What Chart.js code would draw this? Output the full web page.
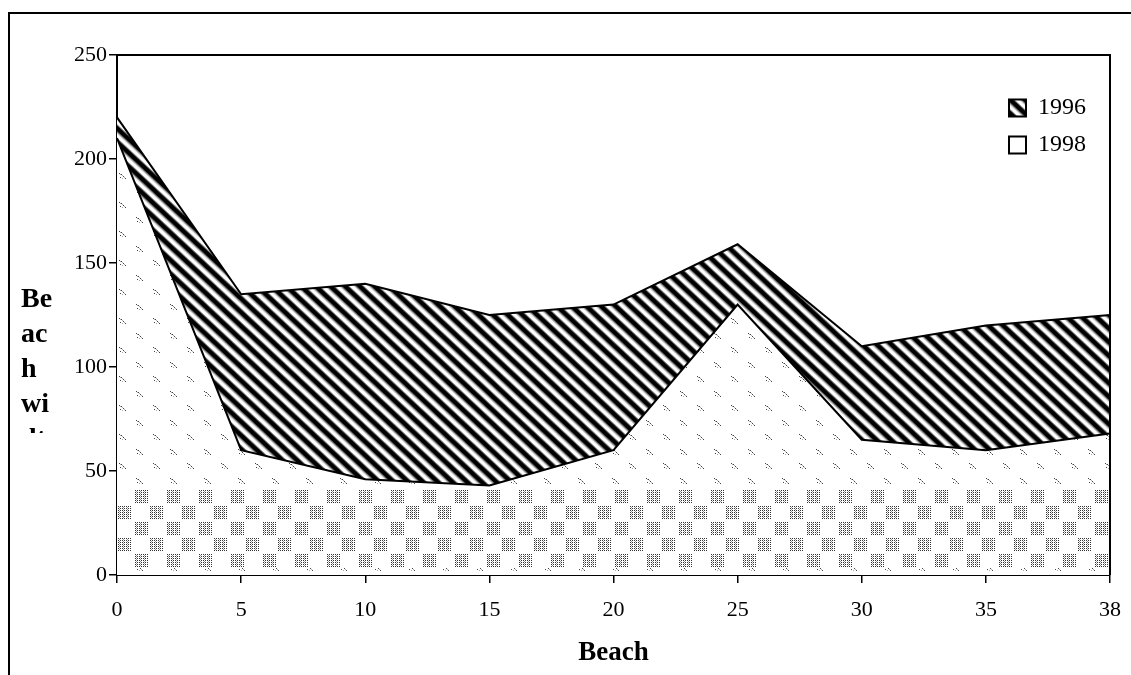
<!DOCTYPE html>
<html lang="en">
<head>
<meta charset="UTF-8">
<title>Beach width 1996 / 1998</title>
<script src="https://cdn.jsdelivr.net/npm/chart.js"></script>
<style>
  html, body { margin: 0; padding: 0; background: #fff; overflow: hidden; }
  #frame { position: absolute; left: 8px; top: 12px; width: 1300px; height: 800px; border-left: 2px solid #000; border-top: 2px solid #000; }
  #wrap { position: absolute; left: 0; top: 0; width: 1131px; height: 675px; }
</style>
</head>
<body>
<div id="frame"></div>
<div id="wrap"><canvas id="chart" width="1131" height="675"></canvas></div>
<script>
// values
const beachLabels = ['0', '5', '10', '15', '20', '25', '30', '35', '38'];
const width1996 = [220, 135, 140, 125, 130, 159, 110, 120, 125];
const width1998 = [210, 60, 46, 43, 60, 130, 65, 60, 68];
const yTicks = [0, 50, 100, 150, 200, 250];
const seriesNames = ['1996', '1998'];
const xTitle = 'Beach';
const yTitleLines = ['Be', 'ac', 'h', 'wi', 'dt', 'h'];

const SERIF = '"Liberation Serif", "Times New Roman", serif';

// diagonal black hatching for 1996
function stripePattern() {
    const c = document.createElement('canvas');
    c.width = 8; c.height = 10;
    const g = c.getContext('2d');
    g.fillStyle = '#fff'; g.fillRect(0, 0, 8, 10);
    g.fillStyle = '#000'; g.fillRect(0, 2, 8, 4);
    g.fillStyle = '#707070'; g.fillRect(0, 1, 8, 1); g.fillRect(0, 6, 8, 1);
    g.fillStyle = '#c8c8c8'; g.fillRect(0, 7, 8, 1);
    const p = g.createPattern(c, 'repeat');
    p.setTransform(new DOMMatrix().rotate(43));
    return p;
}

// speckled fill for 1998, with the checkered band near the base
let dotCache = null;
function dotPattern(chart) {
    const a = chart.chartArea;
    if (!a) return '#ddd';
    const key = a.left + ',' + a.bottom;
    if (dotCache && dotCache.key === key) return dotCache.pattern;
    const c = document.createElement('canvas');
    c.width = chart.width; c.height = chart.height;
    const g = c.getContext('2d');
    g.fillStyle = '#fff'; g.fillRect(0, 0, c.width, c.height);
    // confetti
    for (let col = 0; col * 17 < c.width; col++) {
        const off = (col % 2) * 14.5;
        for (let y = off - 30; y < c.height; y += 29) {
            const x = a.left + 2 + col * 17, yy = Math.round(y);
            g.fillStyle = '#444';
            g.fillRect(x, yy, 1, 1); g.fillRect(x + 2, yy + 1, 1, 1);
            g.fillRect(x + 4, yy + 3, 1, 1); g.fillRect(x + 6, yy + 5, 1, 1);
            g.fillRect(x + 1, yy + 4, 1, 1);
            g.fillStyle = '#aaa';
            g.fillRect(x + 1, yy + 1, 1, 1); g.fillRect(x + 3, yy + 2, 1, 1);
            g.fillRect(x + 5, yy + 4, 1, 1); g.fillRect(x + 3, yy + 5, 1, 1);
        }
    }
    // checkered band
    const bandTop = a.bottom - 87;
    g.fillStyle = '#fff'; g.fillRect(0, bandTop, c.width, 80);
    for (let r = 0; r < 5; r++) {
        const sy = bandTop + 2 + r * 16;
        for (let sx = a.left + (r % 2 === 0 ? 18 : 1); sx < c.width; sx += 32) {
            g.fillStyle = '#333';
            for (let dx = 0; dx < 13; dx += 2) {
                for (let dy = 0; dy < 13; dy += 2) g.fillRect(sx + dx, sy + dy, 1, 1);
            }
            g.fillStyle = '#999';
            for (let dx = 1; dx < 13; dx += 4) {
                for (let dy = 1; dy < 13; dy += 2) g.fillRect(sx + dx, sy + dy, 1, 1);
            }
        }
    }
    const pattern = chart.ctx.createPattern(c, 'repeat');
    dotCache = { key, pattern };
    return pattern;
}

// top and right edges of the plot frame
const plotFrame = {
    id: 'plotFrame',
    afterDatasetsDraw(chart) {
        const { ctx, chartArea: a } = chart;
        ctx.save();
        ctx.strokeStyle = '#000';
        ctx.lineWidth = 2;
        ctx.beginPath();
        ctx.moveTo(a.left, a.top);
        ctx.lineTo(a.right, a.top);
        ctx.lineTo(a.right, a.bottom);
        ctx.stroke();
        ctx.restore();
    }
};

// the y title in the original is a narrow text box, wrapped and cut off
const yTitleBox = {
    id: 'yTitleBox',
    afterDraw(chart) {
        const ctx = chart.ctx;
        ctx.save();
        ctx.beginPath();
        ctx.rect(0, 280, 110, 153);
        ctx.clip();
        ctx.font = 'bold 28px ' + SERIF;
        ctx.fillStyle = '#000';
        ctx.textAlign = 'left';
        ctx.textBaseline = 'middle';
        yTitleLines.forEach((t, i) => ctx.fillText(t, 21, 300 + i * 35));
        ctx.restore();
    }
};

// move the legend to the upper right corner of the plot
const legendSpot = {
    id: 'legendSpot',
    afterLayout(chart) {
        const lg = chart.legend, a = chart.chartArea;
        if (!lg) return;
        const w = lg.right - lg.left;
        lg.left = a.right - 114;
        lg.right = lg.left + w;
        lg.top = 83;
    }
};

new Chart(document.getElementById('chart'), {
    type: 'line',
    data: {
        labels: beachLabels,
        datasets: [
            {
                label: seriesNames[0],
                data: width1996,
                fill: 'origin',
                backgroundColor: stripePattern(),
                borderColor: '#000',
                borderWidth: 2,
                pointRadius: 0,
                tension: 0,
                order: 1
            },
            {
                label: seriesNames[1],
                data: width1998,
                fill: 'origin',
                backgroundColor: (ctx) => dotPattern(ctx.chart),
                borderColor: '#000',
                borderWidth: 2,
                pointRadius: 0,
                tension: 0,
                order: 0
            }
        ]
    },
    options: {
        responsive: false,
        animation: false,
        devicePixelRatio: 1,
        layout: { padding: { left: 0, top: 55, right: 21, bottom: 0 } },
        scales: {
            x: {
                type: 'category',
                offset: false,
                grid: { drawOnChartArea: false, drawTicks: true, tickLength: 8, color: '#000', lineWidth: 1.5 },
                border: { display: true, color: '#000', width: 2 },
                ticks: { color: '#000', font: { family: SERIF, size: 22 }, padding: 14, autoSkip: false, maxRotation: 0 },
                title: { display: true, text: xTitle, color: '#000', font: { family: SERIF, size: 27, weight: 'bold' }, padding: { bottom: 6 } },
                afterFit(s) { s.height = 100; s.paddingRight = 0; s.paddingLeft = 0; }
            },
            y: {
                min: 0,
                max: 250,
                afterBuildTicks(s) { s.ticks = yTicks.map(v => ({ value: v })); },
                grid: { drawOnChartArea: false, drawTicks: true, tickLength: 8, color: '#000', lineWidth: 1.5 },
                border: { display: true, color: '#000', width: 2 },
                ticks: { color: '#000', font: { family: SERIF, size: 22 }, padding: 2 },
                afterFit(s) { s.width = 117; s.paddingTop = 0; s.paddingBottom = 0; }
            }
        },
        plugins: {
            legend: {
                position: 'chartArea',
                align: 'start',
                labels: {
                    boxWidth: 17,
                    boxHeight: 17,
                    padding: 13,
                    color: '#000',
                    font: { family: SERIF, size: 24 },
                    sort: (a, b) => a.datasetIndex - b.datasetIndex
                }
            },
            tooltip: { enabled: false }
        }
    },
    plugins: [legendSpot, plotFrame, yTitleBox]
});
</script>
</body>
</html>
